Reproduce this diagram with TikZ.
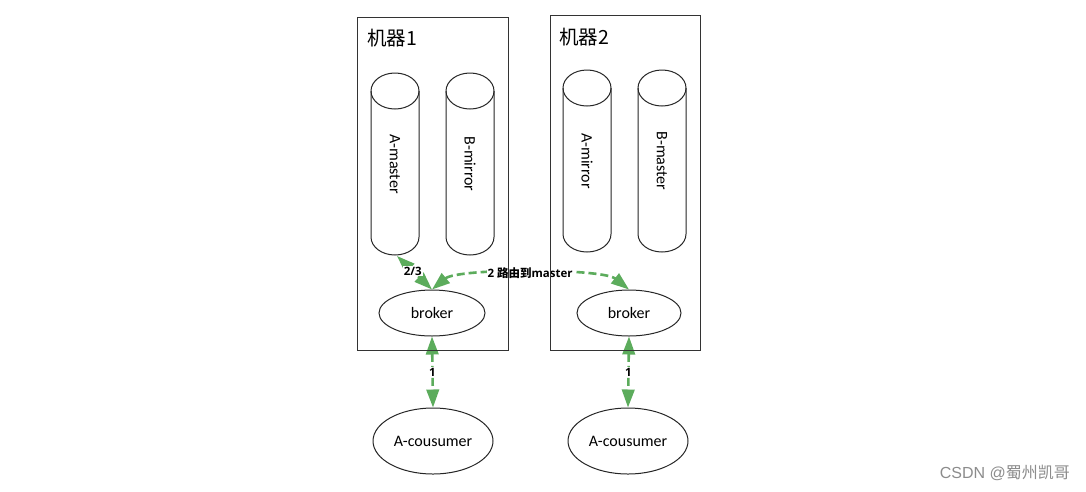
\documentclass[tikz,border=0pt]{standalone}
\usepackage{fontspec}
\setmainfont{Carlito}
\newfontfamily\cjk{Noto Sans CJK SC}
\newfontfamily\lblfont{Open Sans}
\newfontfamily\wmfont{Liberation Sans}
\usetikzlibrary{shapes.geometric,arrows.meta}
\definecolor{gline}{RGB}{92,172,92}
\definecolor{wmgray}{RGB}{140,140,140}
\tikzset{
  boxline/.style={draw=black!80, line width=1pt},
  cylline/.style={draw=black!85, line width=1pt},
  bubble/.style={ellipse, draw=black!85, line width=1pt, inner sep=0pt, font=\fontsize{16}{18}\selectfont},
  garrow/.style={draw=gline, line width=2.6pt, dash pattern=on 8pt off 4pt,
     {Triangle[width=12.5pt,length=18pt]}-{Triangle[width=12.5pt,length=18pt]}},
  lbl/.style={fill=white, inner sep=1pt, text=black, font=\lblfont\bfseries\fontsize{11.5}{13}\selectfont},
  title/.style={font=\cjk\fontsize{19.5}{22}\selectfont, anchor=west, inner sep=0pt},
  cyltext/.style={rotate=-90, font=\fontsize{16}{18}\selectfont, inner sep=0pt}
}
\newcommand\mycyl[5]{%
  % #1 name, #2 center x, #3 top y, #4 bottom y, #5 text
  \draw[cylline] ({#2},{#3+18}) ellipse [x radius=24, y radius=18];
  \draw[cylline] ({#2-24},{#3+18}) -- ({#2-24},{#4-18})
     .. controls ({#2-24},{#4-18+9.94}) and ({#2-13.26},{#4}) .. ({#2},{#4})
     .. controls ({#2+13.26},{#4}) and ({#2+24},{#4-18+9.94}) .. ({#2+24},{#4-18})
     -- ({#2+24},{#3+18});
  \node[cyltext] (#1) at ({#2},{(#3+#4)/2}) {#5};
  \coordinate (#1b) at ({#2+2},{#4+1});
}
\begin{document}
\begin{tikzpicture}[x=1pt,y=-1pt]
\useasboundingbox[fill=white] (0,0) rectangle (1086,491);

% cylinders
\mycyl{am}{395}{73}{255}{A-master}
\mycyl{bmi}{470}{73}{255}{B-mirror}
\mycyl{ami}{587}{70}{252}{A-mirror}
\mycyl{bma}{662}{70}{252}{B-master}

% titles
\node[title] (t1) at (367,38) {机器1};
\node[title] (t2) at (559,37) {机器2};

% brokers and consumers
\node[bubble, minimum width=106pt, minimum height=46pt] (b1) at (432,313) {broker};
\node[bubble, minimum width=104pt, minimum height=46pt] (b2) at (629,313) {broker};
\node[bubble, minimum width=120pt, minimum height=66pt] (c1) at (433,441) {A-cousumer};
\node[bubble, minimum width=120pt, minimum height=66pt] (c2) at (628,441) {A-cousumer};

% connectors
\draw[garrow] (b1.south) -- node[lbl] {1} (c1.north);
\draw[garrow] (b2.south) -- node[lbl] {1} (c2.north);
\draw[garrow] (amb) -- node[lbl, pos=0.45] {2/3} (b1.north);
\draw[garrow] (b1.north) .. controls (458,268) and (602,268) ..
   node[lbl] {2 {\cjk\bfseries 路由到}master} (b2.north);

% machine boxes
\draw[boxline] (357,17) rectangle (508,350);
\draw[boxline] (550,15) rectangle (700,350);

% watermark
\node[font=\wmfont\fontsize{16}{18}\selectfont, text=wmgray, anchor=east, inner sep=0pt] (wm) at (1070,473) {CSDN @{\cjk 蜀州凯哥}};
\end{tikzpicture}
\end{document}
